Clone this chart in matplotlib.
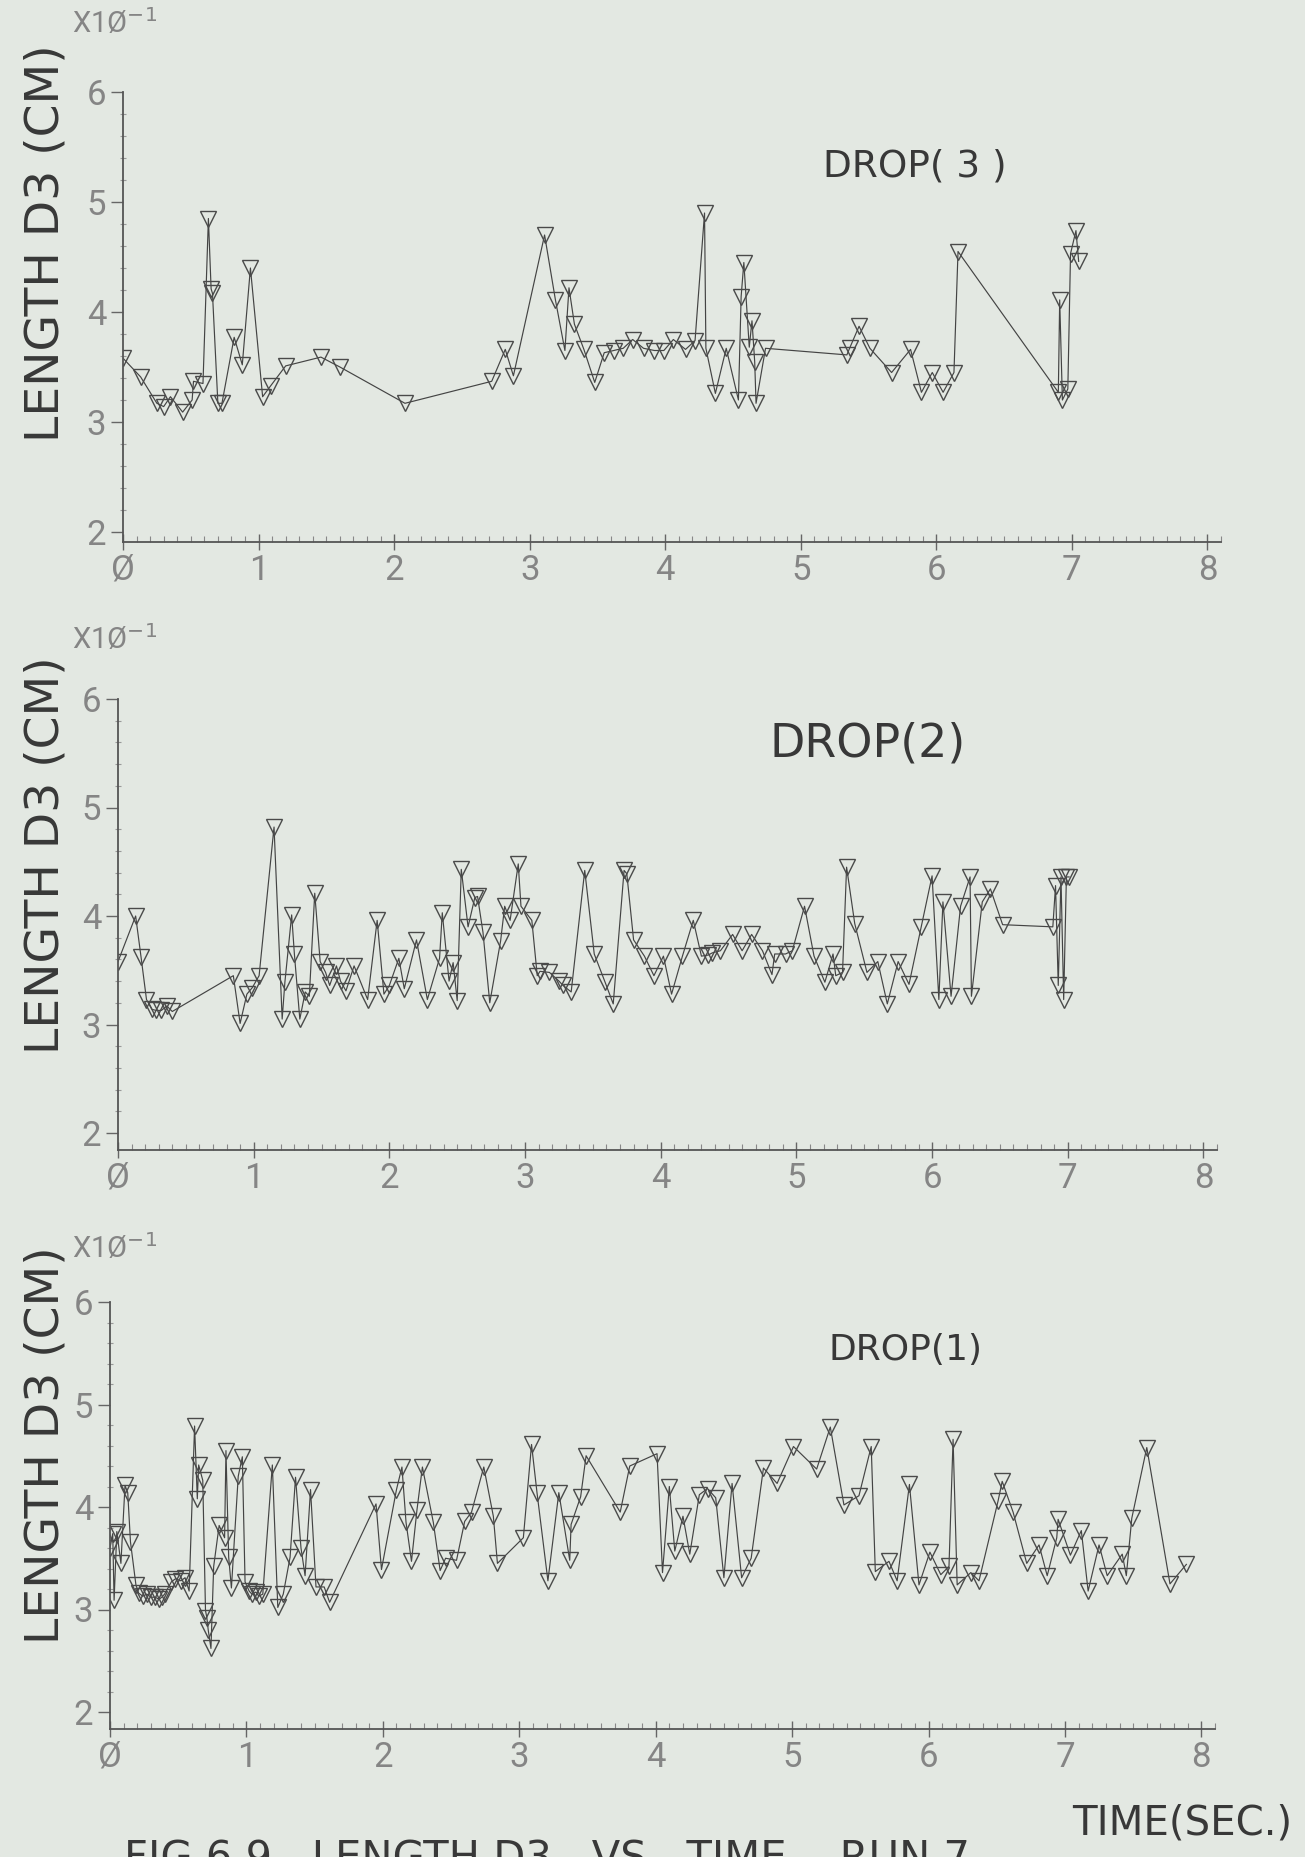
import matplotlib
matplotlib.use('agg')
import matplotlib.pyplot as plt
from matplotlib.ticker import MultipleLocator

# DROP(3)  time [s], length D3 [x10^-1 cm]
t3 = [0.00, 0.13, 0.25, 0.30, 0.35, 0.44, 0.51, 0.52, 0.59, 0.63,
      0.65, 0.66, 0.70, 0.73, 0.82, 0.88, 0.94, 1.03, 1.09, 1.20,
      1.46, 1.60, 2.08, 2.72, 2.82, 2.88, 3.11, 3.19, 3.26, 3.29,
      3.33, 3.40, 3.48, 3.55, 3.62, 3.69, 3.76, 3.84, 3.92, 3.99,
      4.06, 4.15, 4.22, 4.29, 4.30, 4.37, 4.45, 4.54, 4.56, 4.58,
      4.62, 4.64, 4.66, 4.67, 4.74, 5.34, 5.36, 5.43, 5.51, 5.67,
      5.81, 5.89, 5.97, 6.05, 6.13, 6.16, 6.90, 6.91, 6.93, 6.97,
      6.99, 7.03, 7.05]
d3 = [3.58, 3.41, 3.17, 3.14, 3.23, 3.09, 3.20, 3.37, 3.35, 4.85,
      4.21, 4.17, 3.17, 3.17, 3.77, 3.52, 4.40, 3.23, 3.33, 3.51,
      3.59, 3.50, 3.17, 3.37, 3.66, 3.42, 4.70, 4.11, 3.65, 4.22,
      3.89, 3.66, 3.36, 3.63, 3.65, 3.67, 3.75, 3.67, 3.65, 3.65,
      3.75, 3.66, 3.74, 4.90, 3.67, 3.26, 3.67, 3.20, 4.14, 4.45,
      3.68, 3.92, 3.55, 3.17, 3.67, 3.61, 3.67, 3.87, 3.67, 3.45,
      3.66, 3.27, 3.45, 3.27, 3.45, 4.55, 3.27, 4.11, 3.20, 3.30,
      4.53, 4.74, 4.46]

# DROP(2)
t2 = [0.00, 0.13, 0.17, 0.21, 0.25, 0.28, 0.32, 0.36, 0.40, 0.85,
      0.90, 0.95, 0.99, 1.04, 1.15, 1.21, 1.23, 1.28, 1.30, 1.34,
      1.38, 1.41, 1.45, 1.49, 1.53, 1.56, 1.61, 1.64, 1.68, 1.74,
      1.84, 1.91, 1.96, 2.00, 2.07, 2.11, 2.20, 2.28, 2.37, 2.39,
      2.44, 2.47, 2.50, 2.53, 2.58, 2.63, 2.65, 2.69, 2.74, 2.82,
      2.85, 2.89, 2.95, 2.97, 3.05, 3.09, 3.11, 3.18, 3.25, 3.28,
      3.34, 3.44, 3.51, 3.59, 3.65, 3.73, 3.75, 3.80, 3.88, 3.95,
      4.02, 4.08, 4.16, 4.24, 4.30, 4.35, 4.38, 4.44, 4.53, 4.60,
      4.67, 4.75, 4.82, 4.84, 4.92, 4.97, 5.06, 5.13, 5.21, 5.27,
      5.29, 5.34, 5.37, 5.43, 5.52, 5.60, 5.67, 5.75, 5.83, 5.92,
      6.00, 6.05, 6.08, 6.14, 6.21, 6.28, 6.29, 6.37, 6.43, 6.52,
      6.89, 6.91, 6.93, 6.95, 6.97, 6.99, 7.01]
d2 = [3.58, 4.00, 3.62, 3.23, 3.14, 3.13, 3.13, 3.17, 3.12, 3.45,
      3.01, 3.28, 3.34, 3.45, 4.82, 3.05, 3.39, 4.01, 3.65, 3.05,
      3.30, 3.26, 4.21, 3.58, 3.48, 3.36, 3.54, 3.40, 3.31, 3.54,
      3.23, 3.96, 3.28, 3.36, 3.61, 3.33, 3.78, 3.23, 3.61, 4.03,
      3.40, 3.57, 3.22, 4.43, 3.90, 4.17, 4.18, 3.85, 3.20, 3.77,
      4.09, 3.96, 4.48, 4.09, 3.96, 3.45, 3.49, 3.48, 3.40, 3.36,
      3.30, 4.42, 3.65, 3.39, 3.19, 4.42, 4.39, 3.78, 3.63, 3.45,
      3.63, 3.28, 3.63, 3.96, 3.63, 3.64, 3.66, 3.68, 3.83, 3.68,
      3.83, 3.68, 3.46, 3.65, 3.65, 3.68, 4.09, 3.63, 3.39, 3.65,
      3.45, 3.48, 4.45, 3.93, 3.48, 3.58, 3.19, 3.58, 3.37, 3.90,
      4.37, 3.23, 4.13, 3.26, 4.09, 4.36, 3.26, 4.13, 4.25, 3.92,
      3.90, 4.28, 3.36, 4.36, 3.23, 4.36, 4.36]

# DROP(1)
t1 = [0.00, 0.02, 0.03, 0.05, 0.08, 0.11, 0.13, 0.15, 0.19, 0.21,
      0.24, 0.27, 0.30, 0.33, 0.36, 0.38, 0.40, 0.45, 0.48, 0.52,
      0.55, 0.58, 0.62, 0.64, 0.65, 0.68, 0.70, 0.71, 0.72, 0.74,
      0.76, 0.80, 0.84, 0.85, 0.87, 0.89, 0.94, 0.97, 0.99, 1.02,
      1.04, 1.07, 1.09, 1.12, 1.19, 1.23, 1.27, 1.32, 1.36, 1.40,
      1.43, 1.47, 1.51, 1.57, 1.61, 1.95, 1.99, 2.10, 2.14, 2.17,
      2.21, 2.25, 2.29, 2.37, 2.42, 2.46, 2.54, 2.60, 2.65, 2.74,
      2.81, 2.84, 3.03, 3.09, 3.13, 3.21, 3.29, 3.37, 3.38, 3.45,
      3.49, 3.74, 3.81, 4.01, 4.05, 4.10, 4.14, 4.20, 4.25, 4.32,
      4.38, 4.44, 4.50, 4.56, 4.63, 4.70, 4.79, 4.89, 5.01, 5.18,
      5.28, 5.38, 5.49, 5.58, 5.61, 5.71, 5.77, 5.86, 5.93, 6.01,
      6.09, 6.15, 6.18, 6.21, 6.31, 6.37, 6.51, 6.54, 6.62, 6.72,
      6.81, 6.87, 6.94, 6.95, 7.04, 7.12, 7.17, 7.25, 7.31, 7.42,
      7.45, 7.49, 7.60, 7.77, 7.89]
d1 = [3.60, 3.74, 3.09, 3.76, 3.45, 4.21, 4.14, 3.66, 3.24, 3.16,
      3.13, 3.15, 3.12, 3.12, 3.10, 3.12, 3.15, 3.27, 3.30, 3.28,
      3.31, 3.18, 4.79, 4.08, 4.41, 4.26, 2.99, 2.92, 2.80, 2.62,
      3.42, 3.82, 3.70, 4.55, 3.51, 3.21, 4.30, 4.49, 3.27, 3.18,
      3.15, 3.17, 3.13, 3.15, 4.41, 3.02, 3.15, 3.51, 4.29, 3.60,
      3.33, 4.17, 3.22, 3.22, 3.07, 4.03, 3.39, 4.17, 4.39, 3.85,
      3.47, 3.97, 4.39, 3.85, 3.38, 3.50, 3.48, 3.86, 3.95, 4.39,
      3.91, 3.45, 3.70, 4.61, 4.14, 3.28, 4.14, 3.48, 3.83, 4.10,
      4.50, 3.95, 4.40, 4.52, 3.36, 4.20, 3.57, 3.91, 3.54, 4.12,
      4.18, 4.09, 3.31, 4.23, 3.31, 3.50, 4.38, 4.23, 4.59, 4.37,
      4.78, 4.02, 4.11, 4.59, 3.37, 3.47, 3.28, 4.22, 3.24, 3.56,
      3.34, 3.42, 4.66, 3.24, 3.36, 3.28, 4.06, 4.25, 3.95, 3.45,
      3.63, 3.33, 3.70, 3.88, 3.53, 3.77, 3.18, 3.63, 3.33, 3.54,
      3.33, 3.89, 4.58, 3.25, 3.44]

titles = ["DROP( 3 )", "DROP(2)", "DROP(1)"]
series = [(t3, d3), (t2, d2), (t1, d1)]
x_ticks = [0, 1, 2, 3, 4, 5, 6, 7, 8]
x_labels = ["Ø", "1", "2", "3", "4", "5", "6", "7", "8"]
y_ticks = [2, 3, 4, 5, 6]

W, H = 1305, 1857
BG = '#e3e8e2'
INK = '#383838'
GREY = '#858585'
THIN = ['Roboto', 'DejaVu Sans']

# pixel layout per panel: left, right, y=6 px, y=2 px, x-axis px
boxes = [(123, 1221, 92, 532, 542),
         (118, 1217, 699, 1133, 1150),
         (110, 1215, 1302, 1712, 1729)]
drop_txt = [((823, 166), 27), ((770, 744), 33), ((829, 1350), 26)]
xlab_pos = [(72, 24), (72, 640), (72, 1249)]
ylab_y = [243, 855, 1445]

fig = plt.figure(figsize=(W / 100, H / 100), dpi=100)
fig.patch.set_facecolor(BG)

for i, (tt, dd) in enumerate(series):
    l, r, y6, y2, yb = boxes[i]
    unit = (y2 - y6) / 4.0
    ylow = 2 - (yb - y2) / unit
    ax = fig.add_axes([l / W, 1 - yb / H, (r - l) / W, (yb - y6) / H])
    ax.set_facecolor(BG)
    ax.plot(tt, dd, color='#444444', lw=0.85, marker='v', ms=11,
            mfc='none', mec='#4a4a4a', mew=1.0)
    ax.set_xlim(0, 8.1)
    ax.set_ylim(ylow, 6.0)
    for s in ['top', 'right']:
        ax.spines[s].set_visible(False)
    for s in ['left', 'bottom']:
        ax.spines[s].set_color('#555555')
        ax.spines[s].set_linewidth(1.3)
    ax.set_xticks(x_ticks)
    ax.set_xticklabels(x_labels)
    ax.set_yticks(y_ticks)
    ax.xaxis.set_minor_locator(MultipleLocator(0.1))
    ax.yaxis.set_minor_locator(MultipleLocator(0.2))
    ax.tick_params(axis='x', which='major', direction='inout', length=11,
                   width=1.0, color='#666666', pad=3)
    ax.tick_params(axis='x', which='minor', direction='in', length=4,
                   width=0.8, color='#888888')
    ax.tick_params(axis='y', which='major', direction='out', length=9,
                   width=1.0, color='#666666', pad=3)
    ax.tick_params(axis='y', which='minor', direction='inout', length=4,
                   width=0.8, color='#999999')
    for lab in ax.get_xticklabels() + ax.get_yticklabels():
        lab.set_family(THIN)
        lab.set_fontweight('normal')
        lab.set_fontsize(25)
        lab.set_color(GREY)

    (dx, dy), dsize = drop_txt[i]
    fig.text(dx / W, 1 - dy / H, titles[i], fontsize=dsize, color=INK,
             ha='left', va='center')
    xp = xlab_pos[i]
    fig.text(xp[0] / W, 1 - xp[1] / H, "X1Ø$^{-1}$", fontsize=21,
             color=GREY, family=THIN, ha='left', va='center')
    fig.text(46 / W, 1 - ylab_y[i] / H, "LENGTH D3 (CM)", fontsize=34,
             color=INK, rotation=90, ha='center', va='center')

fig.text(1072 / W, 1 - 1823 / H, "TIME(SEC.)", fontsize=29, color=INK,
         ha='left', va='center')
# caption runs off the bottom edge, as on the scanned page
fig.text(124 / W, 1 - 1838 / H, "FIG 6.9   LENGTH D3   VS   TIME    RUN 7",
         fontsize=30, color=INK, ha='left', va='top')

fig.savefig("out.png", dpi=100, facecolor=BG)
